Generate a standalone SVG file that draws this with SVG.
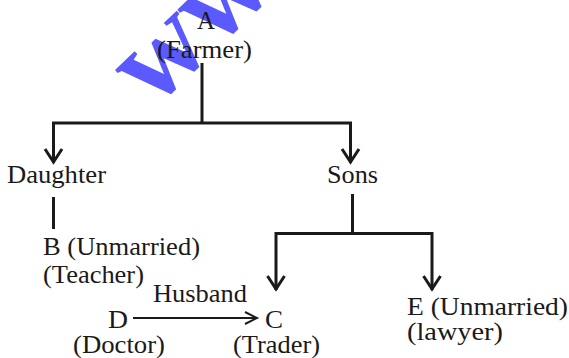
<svg xmlns="http://www.w3.org/2000/svg" width="569" height="358" viewBox="0 0 569 358">
<style>
text{font-family:"Liberation Serif","Times New Roman",serif;font-size:25px;fill:#1a1a1a}
text.wm{font-family:"Liberation Serif","Times New Roman",serif;font-size:120px;font-weight:bold;fill:#5a5aff}
.ln{fill:none;stroke:#1a1a1a;stroke-width:3}
.thin{fill:none;stroke:#1a1a1a;stroke-width:2}
</style>
<rect width="569" height="358" fill="#fff"/>
<text class="wm" transform="translate(153,110) rotate(-44)">www</text>
<g id="connectors">
<polyline class="ln" points="202,63 202,123"/>
<polyline class="ln" points="53.5,163 53.5,123 350.5,123 350.5,163"/>
<polyline class="ln" points="45,149 53.5,162 62,149"/>
<polyline class="ln" points="342,149 350.5,162 359,149"/>
<polyline class="ln" points="53.5,197 53.5,229"/>
<polyline class="ln" points="352.5,194 352.5,233"/>
<polyline class="ln" points="276,290 276,233.5 432,233.5 432,290"/>
<polyline class="ln" points="267.5,276 276,289 284.5,276"/>
<polyline class="ln" points="423.5,276 432,289 440.5,276"/>
<line class="thin" x1="133" y1="318" x2="257" y2="318"/>
<polyline class="thin" points="245,312 257,318 245,324"/>
</g>
<g id="node-A"><text x="197" y="29" textLength="18" lengthAdjust="spacingAndGlyphs">A</text><text x="157" y="58" textLength="95" lengthAdjust="spacingAndGlyphs">(Farmer)</text></g>
<g id="node-daughter"><text x="7" y="183" textLength="99" lengthAdjust="spacingAndGlyphs">Daughter</text></g>
<g id="node-sons"><text x="327" y="183" textLength="51" lengthAdjust="spacingAndGlyphs">Sons</text></g>
<g id="node-B"><text x="43" y="255" textLength="157" lengthAdjust="spacingAndGlyphs">B (Unmarried)</text><text x="43" y="283" textLength="101" lengthAdjust="spacingAndGlyphs">(Teacher)</text></g>
<g id="label-husband"><text x="153" y="302" textLength="94" lengthAdjust="spacingAndGlyphs">Husband</text></g>
<g id="node-D"><text x="108" y="328" textLength="20" lengthAdjust="spacingAndGlyphs">D</text><text x="73" y="353" textLength="92" lengthAdjust="spacingAndGlyphs">(Doctor)</text></g>
<g id="node-C"><text x="265" y="328" textLength="18" lengthAdjust="spacingAndGlyphs">C</text><text x="233" y="353" textLength="87" lengthAdjust="spacingAndGlyphs">(Trader)</text></g>
<g id="node-E"><text x="407" y="315" textLength="161" lengthAdjust="spacingAndGlyphs">E (Unmarried)</text><text x="407" y="340" textLength="96" lengthAdjust="spacingAndGlyphs">(lawyer)</text></g>
</svg>
